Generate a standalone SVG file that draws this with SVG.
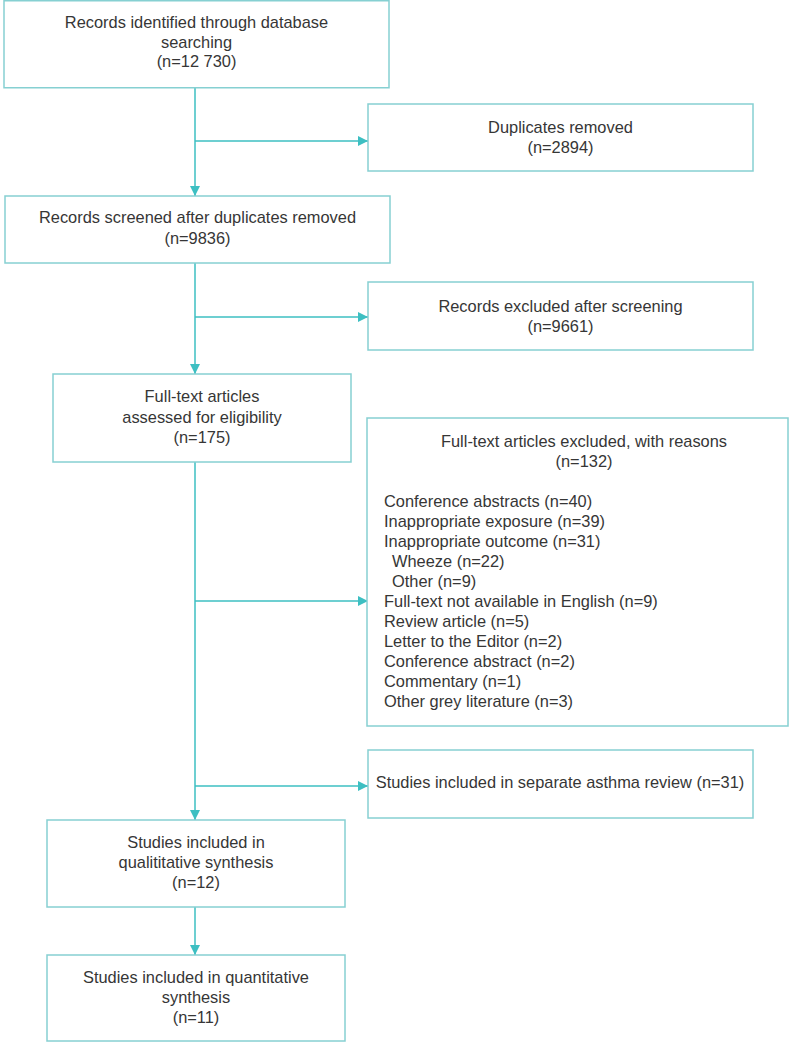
<svg xmlns="http://www.w3.org/2000/svg" width="789" height="1043" viewBox="0 0 789 1043">
<style>
.box{fill:#ffffff;stroke:#86d0d2;stroke-width:1.5}
.ln{fill:none;stroke:#3dbfc2;stroke-width:1.5}
text{font-family:"Liberation Sans",Arial,sans-serif;font-size:16.4px;fill:#363636}
.c{text-anchor:middle}
</style>
<defs>
<marker id="ah" viewBox="0 0 10 10" refX="10" refY="5" markerWidth="10" markerHeight="11" markerUnits="userSpaceOnUse" orient="auto">
<path d="M0,0 L10,5 L0,10 Z" fill="#3dbfc2"/>
</marker>
</defs>
<rect width="789" height="1043" fill="#ffffff"/>
<g id="connectors">
<path class="ln" d="M195,88 V196" marker-end="url(#ah)"/>
<path class="ln" d="M195,141 H368" marker-end="url(#ah)"/>
<path class="ln" d="M195,263 V374" marker-end="url(#ah)"/>
<path class="ln" d="M195,317 H368" marker-end="url(#ah)"/>
<path class="ln" d="M195,462 V820" marker-end="url(#ah)"/>
<path class="ln" d="M195,601 H368" marker-end="url(#ah)"/>
<path class="ln" d="M195,786 H368" marker-end="url(#ah)"/>
<path class="ln" d="M195,907 V955" marker-end="url(#ah)"/>
</g>
<g id="identified">
<rect class="box" x="4" y="0.75" width="385" height="87"/>
<text class="c" x="196.5" y="28">Records identified through database</text>
<text class="c" x="196.5" y="48">searching</text>
<text class="c" x="196.5" y="67">(n=12 730)</text>
</g>
<g id="duplicates">
<rect class="box" x="368" y="104" width="385" height="67"/>
<text class="c" x="560.5" y="133">Duplicates removed</text>
<text class="c" x="560.5" y="153">(n=2894)</text>
</g>
<g id="screened">
<rect class="box" x="5" y="196" width="385" height="67"/>
<text class="c" x="197.5" y="223">Records screened after duplicates removed</text>
<text class="c" x="197.5" y="244">(n=9836)</text>
</g>
<g id="excluded-screening">
<rect class="box" x="368" y="282" width="385" height="68"/>
<text class="c" x="560.5" y="312">Records excluded after screening</text>
<text class="c" x="560.5" y="332">(n=9661)</text>
</g>
<g id="fulltext">
<rect class="box" x="53" y="374" width="298" height="88"/>
<text class="c" x="202" y="402">Full-text articles</text>
<text class="c" x="202" y="423">assessed for eligibility</text>
<text class="c" x="202" y="443">(n=175)</text>
</g>
<g id="excluded-reasons">
<rect class="box" x="367" y="418" width="421" height="308"/>
<text class="c" x="584" y="447">Full-text articles excluded, with reasons</text>
<text class="c" x="584" y="467">(n=132)</text>
<text x="384" y="507">Conference abstracts (n=40)</text>
<text x="384" y="527">Inappropriate exposure (n=39)</text>
<text x="384" y="547">Inappropriate outcome (n=31)</text>
<text x="392" y="567">Wheeze (n=22)</text>
<text x="392" y="587">Other (n=9)</text>
<text x="384" y="607">Full-text not available in English (n=9)</text>
<text x="384" y="627">Review article (n=5)</text>
<text x="384" y="647">Letter to the Editor (n=2)</text>
<text x="384" y="667">Conference abstract (n=2)</text>
<text x="384" y="687">Commentary (n=1)</text>
<text x="384" y="707">Other grey literature (n=3)</text>
</g>
<g id="asthma">
<rect class="box" x="368" y="750" width="385" height="68"/>
<text class="c" x="560" y="788">Studies included in separate asthma review (n=31)</text>
</g>
<g id="qualitative">
<rect class="box" x="47" y="820" width="298" height="87"/>
<text class="c" x="196" y="848">Studies included in</text>
<text class="c" x="196" y="868">qualititative synthesis</text>
<text class="c" x="196" y="888">(n=12)</text>
</g>
<g id="quantitative">
<rect class="box" x="47" y="955" width="298" height="86"/>
<text class="c" x="196" y="983">Studies included in quantitative</text>
<text class="c" x="196" y="1003">synthesis</text>
<text class="c" x="196" y="1023">(n=11)</text>
</g>
</svg>
